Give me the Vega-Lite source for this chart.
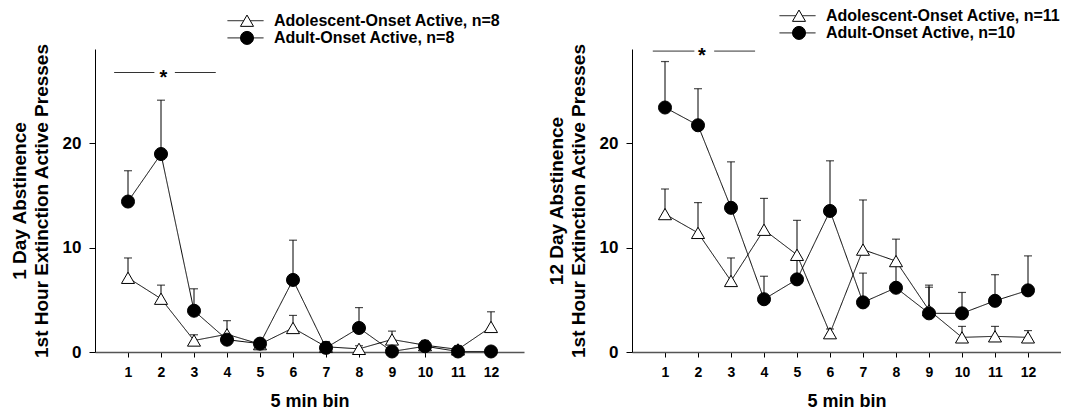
{
  "$schema": "https://vega.github.io/schema/vega-lite/v6.json",
  "background": "white",
  "padding": {"left": 10, "top": 7, "right": 0, "bottom": 0},
  "bounds": "flush",
  "spacing": 108,
  "resolve": {
    "scale": {"x": "independent", "y": "independent", "shape": "independent", "fill": "independent", "stroke": "independent", "strokeDash": "independent"},
    "legend": {"shape": "independent", "fill": "independent", "stroke": "independent", "strokeDash": "independent"}
  },
  "config": {
    "view": {"stroke": null},
    "font": "Liberation Sans",
    "axis": {
      "grid": false,
      "labelFont": "Liberation Sans",
      "labelFontWeight": "bold",
      "labelColor": "black",
      "titleFont": "Liberation Sans",
      "titleFontWeight": "bold",
      "titleColor": "black",
      "tickColor": "black",
      "domainColor": "black"
    },
    "axisY": {
      "labelFontSize": 17,
      "tickSize": 6,
      "labelPadding": 8,
      "titleFontSize": 19,
      "titleLineHeight": 22,
      "titlePadding": 8,
      "minExtent": 36,
      "maxExtent": 36,
      "domainWidth": 1
    },
    "axisX": {
      "labelFontSize": 14,
      "tickSize": 5,
      "labelPadding": 8,
      "titleFontSize": 18,
      "titlePadding": 13,
      "domainColor": "#555555",
      "domainWidth": 1.5
    },
    "legend": {
      "labelFont": "Liberation Sans",
      "labelFontWeight": "bold",
      "labelFontSize": 16,
      "labelColor": "black",
      "labelLimit": 0,
      "padding": 0,
      "rowPadding": 1.2,
      "clipHeight": 16
    }
  },
  "datasets": {
    "d1": [
      {"bin": 1, "group": "Adolescent-Onset Active, n=8", "mean": 7.1, "upper": 9.0},
      {"bin": 2, "group": "Adolescent-Onset Active, n=8", "mean": 5.1, "upper": 6.4},
      {"bin": 3, "group": "Adolescent-Onset Active, n=8", "mean": 1.1, "upper": 1.65},
      {"bin": 4, "group": "Adolescent-Onset Active, n=8", "mean": 1.7, "upper": 3.0},
      {"bin": 5, "group": "Adolescent-Onset Active, n=8", "mean": 0.75, "upper": 1.1},
      {"bin": 6, "group": "Adolescent-Onset Active, n=8", "mean": 2.3, "upper": 3.5},
      {"bin": 7, "group": "Adolescent-Onset Active, n=8", "mean": 0.5, "upper": 1.0},
      {"bin": 8, "group": "Adolescent-Onset Active, n=8", "mean": 0.3, "upper": 0.6},
      {"bin": 9, "group": "Adolescent-Onset Active, n=8", "mean": 1.2, "upper": 2.0},
      {"bin": 10, "group": "Adolescent-Onset Active, n=8", "mean": 0.65, "upper": 1.1},
      {"bin": 11, "group": "Adolescent-Onset Active, n=8", "mean": 0.25, "upper": 0.6},
      {"bin": 12, "group": "Adolescent-Onset Active, n=8", "mean": 2.4, "upper": 3.85},
      {"bin": 1, "group": "Adult-Onset Active, n=8", "mean": 14.4, "upper": 17.35},
      {"bin": 2, "group": "Adult-Onset Active, n=8", "mean": 18.95, "upper": 24.1},
      {"bin": 3, "group": "Adult-Onset Active, n=8", "mean": 3.95, "upper": 6.05},
      {"bin": 4, "group": "Adult-Onset Active, n=8", "mean": 1.18, "upper": 1.6},
      {"bin": 5, "group": "Adult-Onset Active, n=8", "mean": 0.8, "upper": 1.1},
      {"bin": 6, "group": "Adult-Onset Active, n=8", "mean": 6.9, "upper": 10.7},
      {"bin": 7, "group": "Adult-Onset Active, n=8", "mean": 0.4, "upper": 0.8},
      {"bin": 8, "group": "Adult-Onset Active, n=8", "mean": 2.3, "upper": 4.25},
      {"bin": 9, "group": "Adult-Onset Active, n=8", "mean": 0.05, "upper": 0.3},
      {"bin": 10, "group": "Adult-Onset Active, n=8", "mean": 0.55, "upper": 0.9},
      {"bin": 11, "group": "Adult-Onset Active, n=8", "mean": 0.05, "upper": 0.3},
      {"bin": 12, "group": "Adult-Onset Active, n=8", "mean": 0.05, "upper": 0.3}
    ],
    "d12": [
      {"bin": 1, "group": "Adolescent-Onset Active, n=11", "mean": 13.2, "upper": 15.6},
      {"bin": 2, "group": "Adolescent-Onset Active, n=11", "mean": 11.4, "upper": 14.3},
      {"bin": 3, "group": "Adolescent-Onset Active, n=11", "mean": 6.8, "upper": 9.0},
      {"bin": 4, "group": "Adolescent-Onset Active, n=11", "mean": 11.7, "upper": 14.7},
      {"bin": 5, "group": "Adolescent-Onset Active, n=11", "mean": 9.3, "upper": 12.6},
      {"bin": 6, "group": "Adolescent-Onset Active, n=11", "mean": 1.8, "upper": 2.2},
      {"bin": 7, "group": "Adolescent-Onset Active, n=11", "mean": 9.8, "upper": 14.55},
      {"bin": 8, "group": "Adolescent-Onset Active, n=11", "mean": 8.7, "upper": 10.8},
      {"bin": 9, "group": "Adolescent-Onset Active, n=11", "mean": 4.0, "upper": 6.2},
      {"bin": 10, "group": "Adolescent-Onset Active, n=11", "mean": 1.4, "upper": 2.45},
      {"bin": 11, "group": "Adolescent-Onset Active, n=11", "mean": 1.5, "upper": 2.45},
      {"bin": 12, "group": "Adolescent-Onset Active, n=11", "mean": 1.4, "upper": 2.05},
      {"bin": 1, "group": "Adult-Onset Active, n=10", "mean": 23.4, "upper": 27.8},
      {"bin": 2, "group": "Adult-Onset Active, n=10", "mean": 21.7, "upper": 25.2},
      {"bin": 3, "group": "Adult-Onset Active, n=10", "mean": 13.8, "upper": 18.2},
      {"bin": 4, "group": "Adult-Onset Active, n=10", "mean": 5.05, "upper": 7.25},
      {"bin": 5, "group": "Adult-Onset Active, n=10", "mean": 6.95, "upper": 9.0},
      {"bin": 6, "group": "Adult-Onset Active, n=10", "mean": 13.5, "upper": 18.3},
      {"bin": 7, "group": "Adult-Onset Active, n=10", "mean": 4.75, "upper": 7.55},
      {"bin": 8, "group": "Adult-Onset Active, n=10", "mean": 6.15, "upper": 8.3},
      {"bin": 9, "group": "Adult-Onset Active, n=10", "mean": 3.7, "upper": 6.4},
      {"bin": 10, "group": "Adult-Onset Active, n=10", "mean": 3.7, "upper": 5.7},
      {"bin": 11, "group": "Adult-Onset Active, n=10", "mean": 4.9, "upper": 7.4},
      {"bin": 12, "group": "Adult-Onset Active, n=10", "mean": 5.9, "upper": 9.2}
    ],
    "sig1": [
      {"start": 0.58, "end": 1.8, "level": 26.75},
      {"start": 2.42, "end": 3.66, "level": 26.75}
    ],
    "star1": [{"pos": 2.07, "level": 26.75, "label": "*"}],
    "sig12": [
      {"start": 0.63, "end": 1.89, "level": 28.8},
      {"start": 2.49, "end": 3.73, "level": 28.8}
    ],
    "star12": [{"pos": 2.12, "level": 28.8, "label": "*"}]
  },
  "hconcat": [
    {
      "width": 429,
      "height": 303,
      "layer": [
        {
          "data": {"name": "d1"},
          "mark": {"type": "rule", "color": "black", "strokeWidth": 1},
          "encoding": {
            "x": {"field": "bin", "type": "quantitative", "scale": {"domain": [0, 13], "nice": false}, "title": "5 min bin", "axis": {"values": [1,2,3,4,5,6,7,8,9,10,11,12]}},
            "y": {"field": "mean", "type": "quantitative", "scale": {"domain": [0, 29], "nice": false}, "title": ["1 Day Abstinence", "1st Hour Extinction Active Presses"], "axis": {"values": [0, 10, 20]}},
            "y2": {"field": "upper"}
          }
        },
        {
          "data": {"name": "d1"},
          "mark": {"type": "tick", "orient": "horizontal", "color": "black", "size": 8, "thickness": 1.2},
          "encoding": {
            "x": {"field": "bin", "type": "quantitative", "title": "5 min bin", "axis": {"values": [1,2,3,4,5,6,7,8,9,10,11,12]}},
            "y": {"field": "upper", "type": "quantitative", "title": ["1 Day Abstinence", "1st Hour Extinction Active Presses"], "axis": {"values": [0, 10, 20]}}
          }
        },
        {
          "data": {"name": "d1"},
          "mark": {"type": "line", "color": "black", "strokeWidth": 1},
          "encoding": {
            "x": {"field": "bin", "type": "quantitative", "title": "5 min bin", "axis": {"values": [1,2,3,4,5,6,7,8,9,10,11,12]}},
            "y": {"field": "mean", "type": "quantitative", "title": ["1 Day Abstinence", "1st Hour Extinction Active Presses"], "axis": {"values": [0, 10, 20]}},
            "strokeDash": {
              "field": "group", "type": "nominal",
              "scale": {"range": [[1, 0], [1, 0]]},
              "legend": {"orient": "none", "legendX": 132, "legendY": -36.3, "title": null, "symbolType": "stroke", "symbolSize": 1296, "symbolStrokeWidth": 1, "symbolStrokeColor": "black", "labelOffset": 10}
            }
          }
        },
        {
          "data": {"name": "d1"},
          "mark": {"type": "point", "filled": true, "strokeWidth": 1, "size": 170, "opacity": 1},
          "encoding": {
            "x": {"field": "bin", "type": "quantitative", "title": "5 min bin", "axis": {"values": [1,2,3,4,5,6,7,8,9,10,11,12]}},
            "y": {"field": "mean", "type": "quantitative", "title": ["1 Day Abstinence", "1st Hour Extinction Active Presses"], "axis": {"values": [0, 10, 20]}},
            "shape": {
              "field": "group", "type": "nominal",
              "scale": {"domain": ["Adolescent-Onset Active, n=8", "Adult-Onset Active, n=8"], "range": ["triangle-up", "circle"]},
              "legend": {"orient": "none", "legendX": 144, "legendY": -36.3, "title": null, "symbolSize": 170, "symbolStrokeWidth": 1, "labelExpr": "''"}
            },
            "fill": {
              "field": "group", "type": "nominal",
              "scale": {"domain": ["Adolescent-Onset Active, n=8", "Adult-Onset Active, n=8"], "range": ["white", "black"]},
              "legend": {"orient": "none", "legendX": 144, "legendY": -36.3, "title": null, "symbolSize": 170, "symbolStrokeWidth": 1, "labelExpr": "''"}
            },
            "stroke": {
              "field": "group", "type": "nominal",
              "scale": {"domain": ["Adolescent-Onset Active, n=8", "Adult-Onset Active, n=8"], "range": ["black", "black"]},
              "legend": {"orient": "none", "legendX": 144, "legendY": -36.3, "title": null, "symbolSize": 170, "symbolStrokeWidth": 1, "labelExpr": "''"}
            }
          }
        },
        {
          "data": {"name": "sig1"},
          "mark": {"type": "rule", "color": "#333333", "strokeWidth": 1},
          "encoding": {
            "x": {"field": "start", "type": "quantitative", "title": "5 min bin", "axis": {"values": [1,2,3,4,5,6,7,8,9,10,11,12]}},
            "x2": {"field": "end"},
            "y": {"field": "level", "type": "quantitative", "title": ["1 Day Abstinence", "1st Hour Extinction Active Presses"], "axis": {"values": [0, 10, 20]}}
          }
        },
        {
          "data": {"name": "star1"},
          "mark": {"type": "text", "font": "Liberation Sans", "fontWeight": "bold", "fontSize": 20, "color": "black", "baseline": "middle", "dy": 5},
          "encoding": {
            "x": {"field": "pos", "type": "quantitative", "title": "5 min bin", "axis": {"values": [1,2,3,4,5,6,7,8,9,10,11,12]}},
            "y": {"field": "level", "type": "quantitative", "title": ["1 Day Abstinence", "1st Hour Extinction Active Presses"], "axis": {"values": [0, 10, 20]}},
            "text": {"field": "label"}
          }
        }
      ]
    },
    {
      "width": 429,
      "height": 303,
      "layer": [
        {
          "data": {"name": "d12"},
          "mark": {"type": "rule", "color": "black", "strokeWidth": 1},
          "encoding": {
            "x": {"field": "bin", "type": "quantitative", "scale": {"domain": [0, 13], "nice": false}, "title": "5 min bin", "axis": {"values": [1,2,3,4,5,6,7,8,9,10,11,12]}},
            "y": {"field": "mean", "type": "quantitative", "scale": {"domain": [0, 29], "nice": false}, "title": ["12 Day Abstinence", "1st Hour Extinction Active Presses"], "axis": {"values": [0, 10, 20]}},
            "y2": {"field": "upper"}
          }
        },
        {
          "data": {"name": "d12"},
          "mark": {"type": "tick", "orient": "horizontal", "color": "black", "size": 8, "thickness": 1.2},
          "encoding": {
            "x": {"field": "bin", "type": "quantitative", "title": "5 min bin", "axis": {"values": [1,2,3,4,5,6,7,8,9,10,11,12]}},
            "y": {"field": "upper", "type": "quantitative", "title": ["12 Day Abstinence", "1st Hour Extinction Active Presses"], "axis": {"values": [0, 10, 20]}}
          }
        },
        {
          "data": {"name": "d12"},
          "mark": {"type": "line", "color": "black", "strokeWidth": 1},
          "encoding": {
            "x": {"field": "bin", "type": "quantitative", "title": "5 min bin", "axis": {"values": [1,2,3,4,5,6,7,8,9,10,11,12]}},
            "y": {"field": "mean", "type": "quantitative", "title": ["12 Day Abstinence", "1st Hour Extinction Active Presses"], "axis": {"values": [0, 10, 20]}},
            "strokeDash": {
              "field": "group", "type": "nominal",
              "scale": {"range": [[1, 0], [1, 0]]},
              "legend": {"orient": "none", "legendX": 147, "legendY": -41.3, "title": null, "symbolType": "stroke", "symbolSize": 1296, "symbolStrokeWidth": 1, "symbolStrokeColor": "black", "labelOffset": 10}
            }
          }
        },
        {
          "data": {"name": "d12"},
          "mark": {"type": "point", "filled": true, "strokeWidth": 1, "size": 170, "opacity": 1},
          "encoding": {
            "x": {"field": "bin", "type": "quantitative", "title": "5 min bin", "axis": {"values": [1,2,3,4,5,6,7,8,9,10,11,12]}},
            "y": {"field": "mean", "type": "quantitative", "title": ["12 Day Abstinence", "1st Hour Extinction Active Presses"], "axis": {"values": [0, 10, 20]}},
            "shape": {
              "field": "group", "type": "nominal",
              "scale": {"domain": ["Adolescent-Onset Active, n=11", "Adult-Onset Active, n=10"], "range": ["triangle-up", "circle"]},
              "legend": {"orient": "none", "legendX": 159, "legendY": -41.3, "title": null, "symbolSize": 170, "symbolStrokeWidth": 1, "labelExpr": "''"}
            },
            "fill": {
              "field": "group", "type": "nominal",
              "scale": {"domain": ["Adolescent-Onset Active, n=11", "Adult-Onset Active, n=10"], "range": ["white", "black"]},
              "legend": {"orient": "none", "legendX": 159, "legendY": -41.3, "title": null, "symbolSize": 170, "symbolStrokeWidth": 1, "labelExpr": "''"}
            },
            "stroke": {
              "field": "group", "type": "nominal",
              "scale": {"domain": ["Adolescent-Onset Active, n=11", "Adult-Onset Active, n=10"], "range": ["black", "black"]},
              "legend": {"orient": "none", "legendX": 159, "legendY": -41.3, "title": null, "symbolSize": 170, "symbolStrokeWidth": 1, "labelExpr": "''"}
            }
          }
        },
        {
          "data": {"name": "sig12"},
          "mark": {"type": "rule", "color": "#333333", "strokeWidth": 1},
          "encoding": {
            "x": {"field": "start", "type": "quantitative", "title": "5 min bin", "axis": {"values": [1,2,3,4,5,6,7,8,9,10,11,12]}},
            "x2": {"field": "end"},
            "y": {"field": "level", "type": "quantitative", "title": ["12 Day Abstinence", "1st Hour Extinction Active Presses"], "axis": {"values": [0, 10, 20]}}
          }
        },
        {
          "data": {"name": "star12"},
          "mark": {"type": "text", "font": "Liberation Sans", "fontWeight": "bold", "fontSize": 20, "color": "black", "baseline": "middle", "dy": 5},
          "encoding": {
            "x": {"field": "pos", "type": "quantitative", "title": "5 min bin", "axis": {"values": [1,2,3,4,5,6,7,8,9,10,11,12]}},
            "y": {"field": "level", "type": "quantitative", "title": ["12 Day Abstinence", "1st Hour Extinction Active Presses"], "axis": {"values": [0, 10, 20]}},
            "text": {"field": "label"}
          }
        }
      ]
    }
  ]
}
